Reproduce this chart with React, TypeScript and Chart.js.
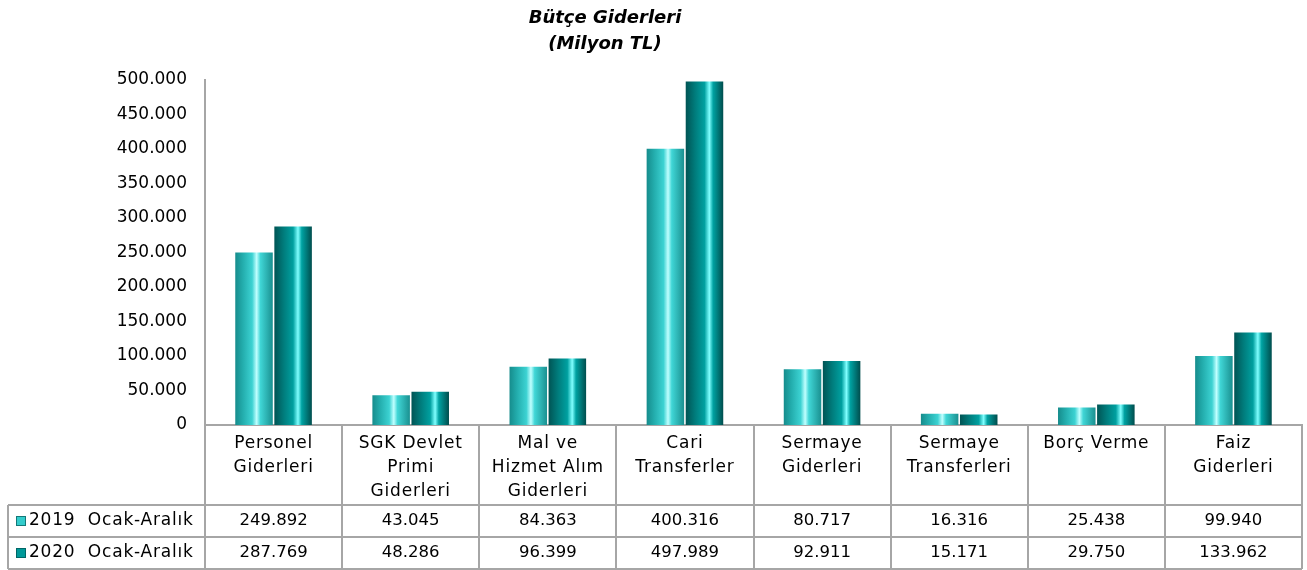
import React, { useEffect, useRef } from "react";
import { Chart, registerables } from "chart.js";

Chart.register(...registerables);

const categories: string[][] = [
  ["Personel", "Giderleri"],
  ["SGK Devlet", "Primi", "Giderleri"],
  ["Mal ve", "Hizmet Alım", "Giderleri"],
  ["Cari", "Transferler"],
  ["Sermaye", "Giderleri"],
  ["Sermaye", "Transferleri"],
  ["Borç Verme"],
  ["Faiz", "Giderleri"],
];
const seriesNames = ["2019  Ocak-Aralık", "2020  Ocak-Aralık"];
const values2019 = [249892, 43045, 84363, 400316, 80717, 16316, 25438, 99940];
const values2020 = [287769, 48286, 96399, 497989, 92911, 15171, 29750, 133962];
const titleLines = ["Bütçe Giderleri", "(Milyon TL)"];

const FONT = "'DejaVu Sans', sans-serif";
const CAT_PCT = 0.57;
const BAR_PCT = 0.96;

const fmt = (v: number) => {
  const s = Math.round(v).toString();
  return s.replace(/\B(?=(\d{3})+(?!\d))/g, ".");
};

const stops = [
  [
    [0, "#168c8c"],
    [0.2, "#23adad"],
    [0.45, "#3cd2d2"],
    [0.57, "#c0ffff"],
    [0.67, "#40d6d6"],
    [1, "#1a9090"],
  ],
  [
    [0, "#005454"],
    [0.25, "#007c7c"],
    [0.5, "#00a0a0"],
    [0.63, "#80ffff"],
    [0.73, "#00a2a2"],
    [1, "#004d4d"],
  ],
] as [number, string][][];
const keyColors = ["#33cccc", "#009999"];

function makeBg(dsIndex: number) {
  return (ctx: any) => {
    const chart = ctx.chart;
    const xs = chart.scales?.x;
    const fallback = stops[dsIndex][2][1];
    if (!xs || ctx.dataIndex === undefined) return fallback;
    const catW = xs.width / categories.length;
    const center = xs.getPixelForValue(ctx.dataIndex);
    const slot = (catW * CAT_PCT) / 2;
    const cx = center + (dsIndex === 0 ? -slot / 2 : slot / 2);
    const bw = slot * BAR_PCT;
    if (!isFinite(cx) || !isFinite(bw) || bw <= 0) return fallback;
    const g = chart.ctx.createLinearGradient(cx - bw / 2, 0, cx + bw / 2, 0);
    stops[dsIndex].forEach(([o, c]) => g.addColorStop(o, c));
    return g;
  };
}

const tablePlugin = {
  id: "tablePlugin",
  afterDraw(chart: any) {
    const { ctx, chartArea } = chart;
    const xs = chart.scales.x;
    const n = categories.length;
    const catW = xs.width / n;
    const left = chartArea.left;
    const right = chartArea.right;
    const top = chartArea.bottom;
    const row1 = 505;
    const row2 = 537;
    const bottom = 569;
    const tableLeft = 8;

    ctx.save();
    ctx.fillStyle = "#000";
    ctx.font = `bold italic 18px ${FONT}`;
    ctx.textAlign = "center";
    ctx.textBaseline = "middle";
    ctx.fillText(titleLines[0], 605, 18);
    ctx.fillText(titleLines[1], 605, 44);

    ctx.strokeStyle = "#a6a6a6";
    ctx.lineWidth = 2;
    ctx.beginPath();
    for (let i = 0; i <= n; i++) {
      const x = Math.round(left + i * catW);
      ctx.moveTo(x, top);
      ctx.lineTo(x, bottom);
    }
    ctx.moveTo(tableLeft, row1);
    ctx.lineTo(tableLeft, bottom);
    [row1, row2, bottom].forEach((y) => {
      ctx.moveTo(tableLeft, y);
      ctx.lineTo(right, y);
    });
    ctx.stroke();

    ctx.fillStyle = "#000";
    ctx.font = `17px ${FONT}`;
    ctx.textAlign = "center";
    ctx.textBaseline = "middle";
    (ctx as any).letterSpacing = "0.8px";
    categories.forEach((lines, i) => {
      const cx = left + (i + 0.5) * catW;
      lines.forEach((t, j) => ctx.fillText(t, cx, 444 + j * 24));
    });

    const rows = [values2019, values2020];
    const rowY = [521, 553];
    rows.forEach((_, r) => {
      const y = rowY[r];
      const kx = 16;
      const ks = 10;
      ctx.fillStyle = keyColors[r];
      ctx.fillRect(kx, y - ks / 2, ks, ks);
      ctx.strokeStyle = r === 0 ? "#137878" : "#006666";
      ctx.lineWidth = 1;
      ctx.strokeRect(kx + 0.5, y - ks / 2 + 0.5, ks - 1, ks - 1);
      ctx.fillStyle = "#000";
      ctx.textAlign = "left";
      ctx.fillText(seriesNames[r], 29, y);
    });

    (ctx as any).letterSpacing = "0px";
    ctx.font = `16.5px ${FONT}`;
    ctx.textAlign = "center";
    rows.forEach((vals, r) => {
      vals.forEach((v, i) => {
        const cx = left + (i + 0.5) * catW;
        ctx.fillText(fmt(v), cx, rowY[r]);
      });
    });
    ctx.restore();
  },
};

export default function App() {
  const ref = useRef<HTMLCanvasElement | null>(null);
  useEffect(() => {
    document.body.style.margin = "0";
    const chart = new Chart(ref.current as HTMLCanvasElement, {
      type: "bar",
      data: {
        labels: categories.map((c) => c.join(" ")),
        datasets: [
          {
            label: seriesNames[0],
            data: values2019,
            backgroundColor: makeBg(0),
            categoryPercentage: CAT_PCT,
            barPercentage: BAR_PCT,
          },
          {
            label: seriesNames[1],
            data: values2020,
            backgroundColor: makeBg(1),
            categoryPercentage: CAT_PCT,
            barPercentage: BAR_PCT,
          },
        ],
      },
      options: {
        animation: false,
        responsive: true,
        maintainAspectRatio: false,
        layout: { padding: { top: 80, right: 5, bottom: 145, left: 0 } },
        plugins: {
          legend: { display: false },
          title: { display: false },
          tooltip: { enabled: false },
        },
        scales: {
          x: {
            ticks: { display: false },
            grid: { display: false, drawTicks: false },
            border: { display: true, color: "#a6a6a6", width: 2 },
          },
          y: {
            min: 0,
            max: 500000,
            ticks: {
              stepSize: 50000,
              padding: 18,
              color: "#000",
              font: { family: FONT, size: 17 },
              callback: (v: any) => fmt(Number(v)),
            },
            grid: { display: false, drawTicks: false },
            border: { display: true, color: "#a6a6a6", width: 2 },
            afterFit: (s: any) => {
              s.width = 205;
            },
          },
        },
      },
      plugins: [tablePlugin],
    });
    return () => chart.destroy();
  }, []);
  return (
    <div style={{ width: 1307, height: 570, position: "relative", background: "#fff" }}>
      <canvas ref={ref} />
    </div>
  );
}
